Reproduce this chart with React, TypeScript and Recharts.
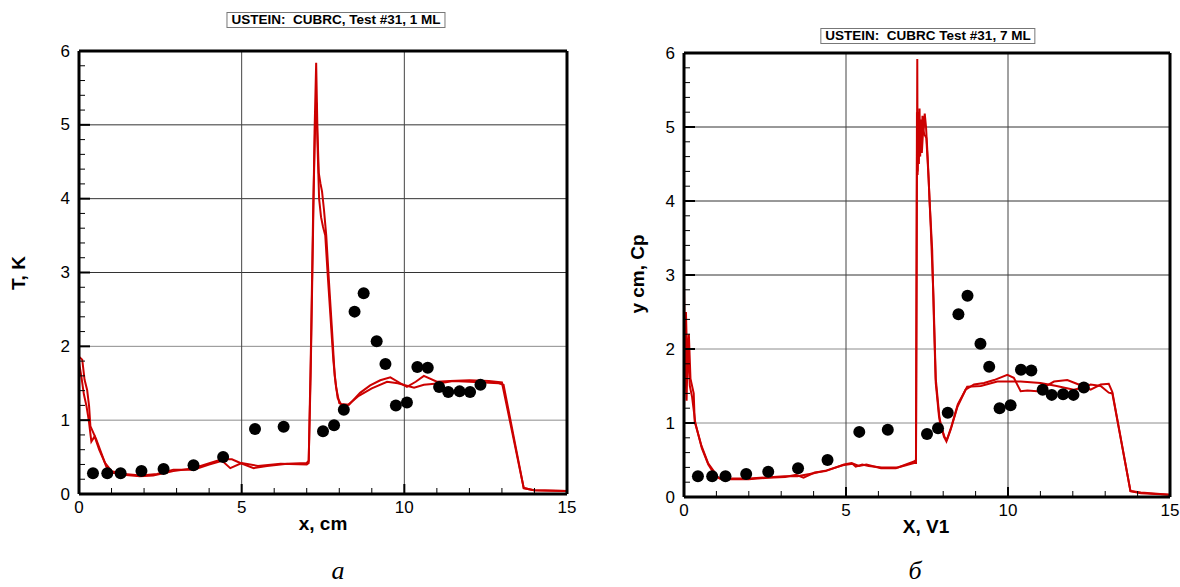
import React from "react";
import {
  ComposedChart,
  Line,
  Scatter,
  XAxis,
  YAxis,
  ReferenceLine,
} from "recharts";

type Pt = [number, number];

// experimental points (same in both panels)
const expPoints: Pt[] = [
  [0.43, 0.28], [0.87, 0.28], [1.28, 0.28], [1.92, 0.31], [2.6, 0.34],
  [3.52, 0.39], [4.43, 0.5], [5.41, 0.88], [6.29, 0.91], [7.5, 0.85],
  [7.84, 0.93], [8.14, 1.14], [8.47, 2.47], [8.75, 2.72], [9.15, 2.07],
  [9.42, 1.76], [9.74, 1.2], [10.08, 1.24], [10.4, 1.72], [10.72, 1.71],
  [11.07, 1.45], [11.35, 1.38], [11.7, 1.39], [12.02, 1.38], [12.34, 1.48],
];

// panel a — 1 ML
const leftLineA: Pt[] = [
  [0, 1.86], [0.1, 1.82], [0.17, 1.55], [0.25, 1.41], [0.31, 1.19], [0.35, 0.92],
  [0.53, 0.74], [0.84, 0.37], [1.0, 0.29], [1.36, 0.26], [1.87, 0.24], [2.28, 0.25],
  [2.9, 0.31], [3.52, 0.35], [4.03, 0.42], [4.4, 0.47], [4.7, 0.47], [4.96, 0.42],
  [5.37, 0.35], [5.78, 0.38], [6.4, 0.41], [7.0, 0.42], [7.06, 0.45], [7.12, 1.6],
  [7.19, 3.44], [7.24, 4.9], [7.29, 5.84], [7.33, 4.9], [7.37, 4.35], [7.42, 4.21],
  [7.47, 4.1], [7.53, 3.85], [7.6, 3.5], [7.68, 2.9], [7.78, 2.2], [7.86, 1.6],
  [7.95, 1.3], [8.05, 1.22], [8.3, 1.21], [8.64, 1.37], [8.95, 1.47], [9.26, 1.54],
  [9.57, 1.58], [9.88, 1.5], [10.08, 1.45], [10.35, 1.52], [10.6, 1.6], [11.0, 1.52],
  [11.4, 1.53], [12.0, 1.54], [12.6, 1.53], [13.0, 1.51], [13.67, 0.08], [13.98, 0.05],
  [15, 0.04],
];
const leftLineB: Pt[] = [
  [0, 1.78], [0.07, 1.6], [0.15, 1.35], [0.23, 1.19], [0.3, 1.0], [0.38, 0.71],
  [0.48, 0.78], [0.62, 0.6], [0.8, 0.42], [1.0, 0.31], [1.4, 0.27], [1.9, 0.25],
  [2.4, 0.27], [2.9, 0.33], [3.52, 0.33], [4.0, 0.4], [4.4, 0.45], [4.65, 0.35],
  [5.0, 0.42], [5.5, 0.38], [6.2, 0.41], [7.0, 0.4], [7.06, 0.42], [7.13, 2.0],
  [7.2, 3.9], [7.26, 5.0], [7.3, 5.3], [7.34, 4.6], [7.38, 4.0], [7.44, 3.75],
  [7.5, 3.62], [7.57, 3.5], [7.64, 3.0], [7.73, 2.4], [7.82, 1.8], [7.9, 1.45],
  [8.0, 1.23], [8.2, 1.18], [8.6, 1.33], [9.0, 1.43], [9.47, 1.52], [9.8, 1.5],
  [10.3, 1.44], [10.6, 1.48], [11.1, 1.5], [11.5, 1.53], [12.0, 1.52], [12.9, 1.5],
  [13.05, 1.48], [13.67, 0.08], [13.98, 0.05], [15, 0.04],
];

// panel б — 7 ML
const rightLineA: Pt[] = [
  [0, 2.85], [0.03, 1.9], [0.06, 2.5], [0.1, 1.8], [0.15, 2.2], [0.2, 1.6], [0.3, 1.4],
  [0.33, 1.02], [0.54, 0.69], [0.74, 0.46], [0.95, 0.33], [1.05, 0.26], [1.2, 0.24],
  [2.0, 0.24], [2.6, 0.26], [3.12, 0.27], [3.46, 0.3], [3.69, 0.26], [4.03, 0.33],
  [4.37, 0.35], [4.94, 0.44], [5.17, 0.46], [5.4, 0.42], [5.63, 0.44], [6.08, 0.39],
  [6.54, 0.39], [7.1, 0.48], [7.16, 0.5], [7.18, 3.0], [7.2, 5.92], [7.21, 4.4],
  [7.23, 5.2], [7.25, 4.5], [7.27, 5.25], [7.29, 4.6], [7.31, 5.1], [7.33, 4.7],
  [7.36, 5.15], [7.39, 4.9], [7.43, 5.18], [7.47, 5.0], [7.52, 4.6], [7.58, 4.0],
  [7.66, 3.34], [7.71, 2.44], [7.77, 1.54], [7.87, 1.09], [8.02, 0.82], [8.1, 0.75],
  [8.23, 0.91], [8.44, 1.22], [8.69, 1.45], [8.95, 1.52], [9.26, 1.54], [9.57, 1.58],
  [9.98, 1.65], [10.18, 1.61], [10.39, 1.43], [10.6, 1.44], [10.9, 1.43], [11.42, 1.56],
  [11.83, 1.58], [12.3, 1.5], [12.55, 1.45], [12.86, 1.52], [13.11, 1.53], [13.22, 1.42],
  [13.78, 0.08], [14.1, 0.05], [15, 0.03],
];
const rightLineB: Pt[] = [
  [0, 1.2], [0.03, 2.2], [0.08, 1.3], [0.12, 2.1], [0.18, 1.5], [0.25, 1.35], [0.35, 1.0],
  [0.55, 0.66], [0.75, 0.44], [0.95, 0.3], [1.1, 0.25], [2.0, 0.25], [3.1, 0.28],
  [3.5, 0.28], [4.0, 0.32], [4.4, 0.36], [4.9, 0.43], [5.2, 0.45], [5.3, 0.41],
  [5.5, 0.44], [5.7, 0.42], [6.1, 0.4], [6.6, 0.4], [7.1, 0.46], [7.16, 0.46],
  [7.19, 5.2], [7.21, 4.35], [7.24, 5.1], [7.26, 4.6], [7.3, 4.9], [7.34, 4.65],
  [7.38, 4.95], [7.42, 4.9], [7.48, 4.85], [7.55, 4.3], [7.62, 3.6], [7.7, 2.7],
  [7.77, 1.6], [7.9, 1.0], [8.05, 0.8], [8.12, 0.78], [8.25, 0.95], [8.45, 1.25],
  [8.74, 1.49], [9.16, 1.5], [9.67, 1.56], [9.98, 1.56], [10.39, 1.56], [11.0, 1.54],
  [11.5, 1.5], [12.03, 1.45], [12.34, 1.48], [12.55, 1.52], [12.86, 1.5], [13.11, 1.41],
  [13.22, 1.4], [13.78, 0.08], [14.1, 0.06], [15, 0.03],
];

const xMajor = [0, 5, 10, 15];
const xMinor = [1, 2, 3, 4, 6, 7, 8, 9, 11, 12, 13, 14];
const yMajor = [0, 1, 2, 3, 4, 5, 6];
const yMinor = [
  0.2, 0.4, 0.6, 0.8, 1.2, 1.4, 1.6, 1.8, 2.2, 2.4, 2.6, 2.8, 3.2, 3.4, 3.6, 3.8,
  4.2, 4.4, 4.6, 4.8, 5.2, 5.4, 5.6, 5.8,
];
const gridLight = [1, 2];
const gridDark = [3, 4, 5];
const gridVertical = [5, 10];

const FONT = '"Liberation Sans", Arial, Helvetica, sans-serif';
const RED = "#cc0000";
const GAP = 8;

const toRows = (pts: Pt[]) => pts.map(([x, y]) => ({ x, y }));

function YTick(props: any) {
  const { x, y, payload } = props;
  const ax = x + GAP;
  const major = yMajor.includes(payload.value);
  return (
    <g>
      <line x1={ax} x2={ax + (major ? 11 : 6)} y1={y} y2={y} stroke="#000" strokeWidth={major ? 2 : 1} />
      {major && (
        <text x={ax - 9} y={y} textAnchor="end" dominantBaseline="central" fontSize={17} fontFamily={FONT} fill="#000">
          {payload.value}
        </text>
      )}
    </g>
  );
}

function XTick(props: any) {
  const { x, y, payload } = props;
  const ay = y - GAP;
  const major = xMajor.includes(payload.value);
  return (
    <g>
      <line x1={x} x2={x} y1={ay} y2={ay - (major ? 10 : 6)} stroke="#000" strokeWidth={major ? 2 : 1} />
      {major && (
        <text x={x} y={ay + 13} textAnchor="middle" dominantBaseline="central" fontSize={17} fontFamily={FONT} fill="#000">
          {payload.value}
        </text>
      )}
    </g>
  );
}

function Dot(props: any) {
  return <circle cx={props.cx} cy={props.cy} r={6} fill="#000" />;
}

function Panel({ lineA, lineB, width, margin }: { lineA: Pt[]; lineB: Pt[]; width: number; margin: any }) {
  return (
    <ComposedChart width={width} height={587} margin={margin}>
      <XAxis
        dataKey="x"
        type="number"
        domain={[0, 15]}
        ticks={[...xMajor, ...xMinor].sort((a, b) => a - b)}
        interval={0}
        tick={<XTick />}
        tickLine={false}
        tickSize={0}
        tickMargin={GAP}
        axisLine={false}
        height={30}
        allowDataOverflow
      />
      <YAxis
        type="number"
        domain={[0, 6]}
        ticks={[...yMajor, ...yMinor].sort((a, b) => a - b)}
        interval={0}
        tick={<YTick />}
        tickLine={false}
        tickSize={0}
        tickMargin={GAP}
        axisLine={false}
        width={40}
        allowDataOverflow
      />
      {gridLight.map((v) => (
        <ReferenceLine key={"l" + v} y={v} stroke="#8c8c8c" strokeWidth={1} />
      ))}
      {gridDark.map((v) => (
        <ReferenceLine key={"d" + v} y={v} stroke="#333" strokeWidth={1} />
      ))}
      {gridVertical.map((v) => (
        <ReferenceLine key={"v" + v} x={v} stroke="#444" strokeWidth={1} />
      ))}
      <Line data={toRows(lineA)} dataKey="y" type="linear" stroke={RED} strokeWidth={2} dot={false} isAnimationActive={false} />
      <Line data={toRows(lineB)} dataKey="y" type="linear" stroke={RED} strokeWidth={2} dot={false} isAnimationActive={false} />
      <Scatter data={toRows(expPoints)} dataKey="y" shape={<Dot />} isAnimationActive={false} />
      {/* heavy plot frame */}
      <ReferenceLine y={0} stroke="#000" strokeWidth={3} ifOverflow="visible" />
      <ReferenceLine y={6} stroke="#000" strokeWidth={3} ifOverflow="visible" />
      <ReferenceLine x={0} stroke="#000" strokeWidth={3} ifOverflow="visible" />
      <ReferenceLine x={15} stroke="#000" strokeWidth={3} ifOverflow="visible" />
    </ComposedChart>
  );
}

const abs = (left: number, top: number, extra: React.CSSProperties = {}): React.CSSProperties => ({
  position: "absolute",
  left,
  top,
  transform: "translate(-50%, -50%)",
  whiteSpace: "nowrap",
  ...extra,
});

const titleStyle: React.CSSProperties = {
  fontFamily: FONT,
  fontWeight: "bold",
  fontSize: 13.5,
  lineHeight: "14px",
  border: "1px solid #777",
  padding: "0 4px",
  background: "#fff",
};

const axisTitle: React.CSSProperties = { fontFamily: FONT, fontWeight: "bold", fontSize: 19 };
const letter: React.CSSProperties = {
  fontFamily: '"Liberation Serif", "Times New Roman", serif',
  fontStyle: "italic",
  fontSize: 26,
  lineHeight: "26px",
};

export default function App() {
  return (
    <div style={{ position: "fixed", left: 0, top: 0, width: 1180, height: 587, background: "#fff", overflow: "hidden" }}>
      <div style={{ position: "absolute", left: 0, top: 0 }}>
        <Panel lineA={leftLineA} lineB={leftLineB} width={600} margin={{ top: 51, right: 33, bottom: 63, left: 39 }} />
      </div>
      <div style={{ position: "absolute", left: 600, top: 0 }}>
        <Panel lineA={rightLineA} lineB={rightLineB} width={580} margin={{ top: 53, right: 10, bottom: 60, left: 44 }} />
      </div>

      <div style={abs(336, 20, titleStyle)}>USTEIN:&nbsp; CUBRC, Test #31, 1 ML</div>
      <div style={abs(928, 36, titleStyle)}>USTEIN:&nbsp; CUBRC Test #31, 7 ML</div>

      <div style={abs(19, 273, { ...axisTitle, transform: "translate(-50%, -50%) rotate(-90deg)" })}>T, K</div>
      <div style={abs(638, 274, { ...axisTitle, transform: "translate(-50%, -50%) rotate(-90deg)" })}>y cm, Cp</div>

      <div style={abs(323, 524, axisTitle)}>x, cm</div>
      <div style={abs(926, 527, axisTitle)}>X, V1</div>

      <div style={abs(338, 571, letter)}>а</div>
      <div style={abs(915, 571, letter)}>б</div>
    </div>
  );
}
